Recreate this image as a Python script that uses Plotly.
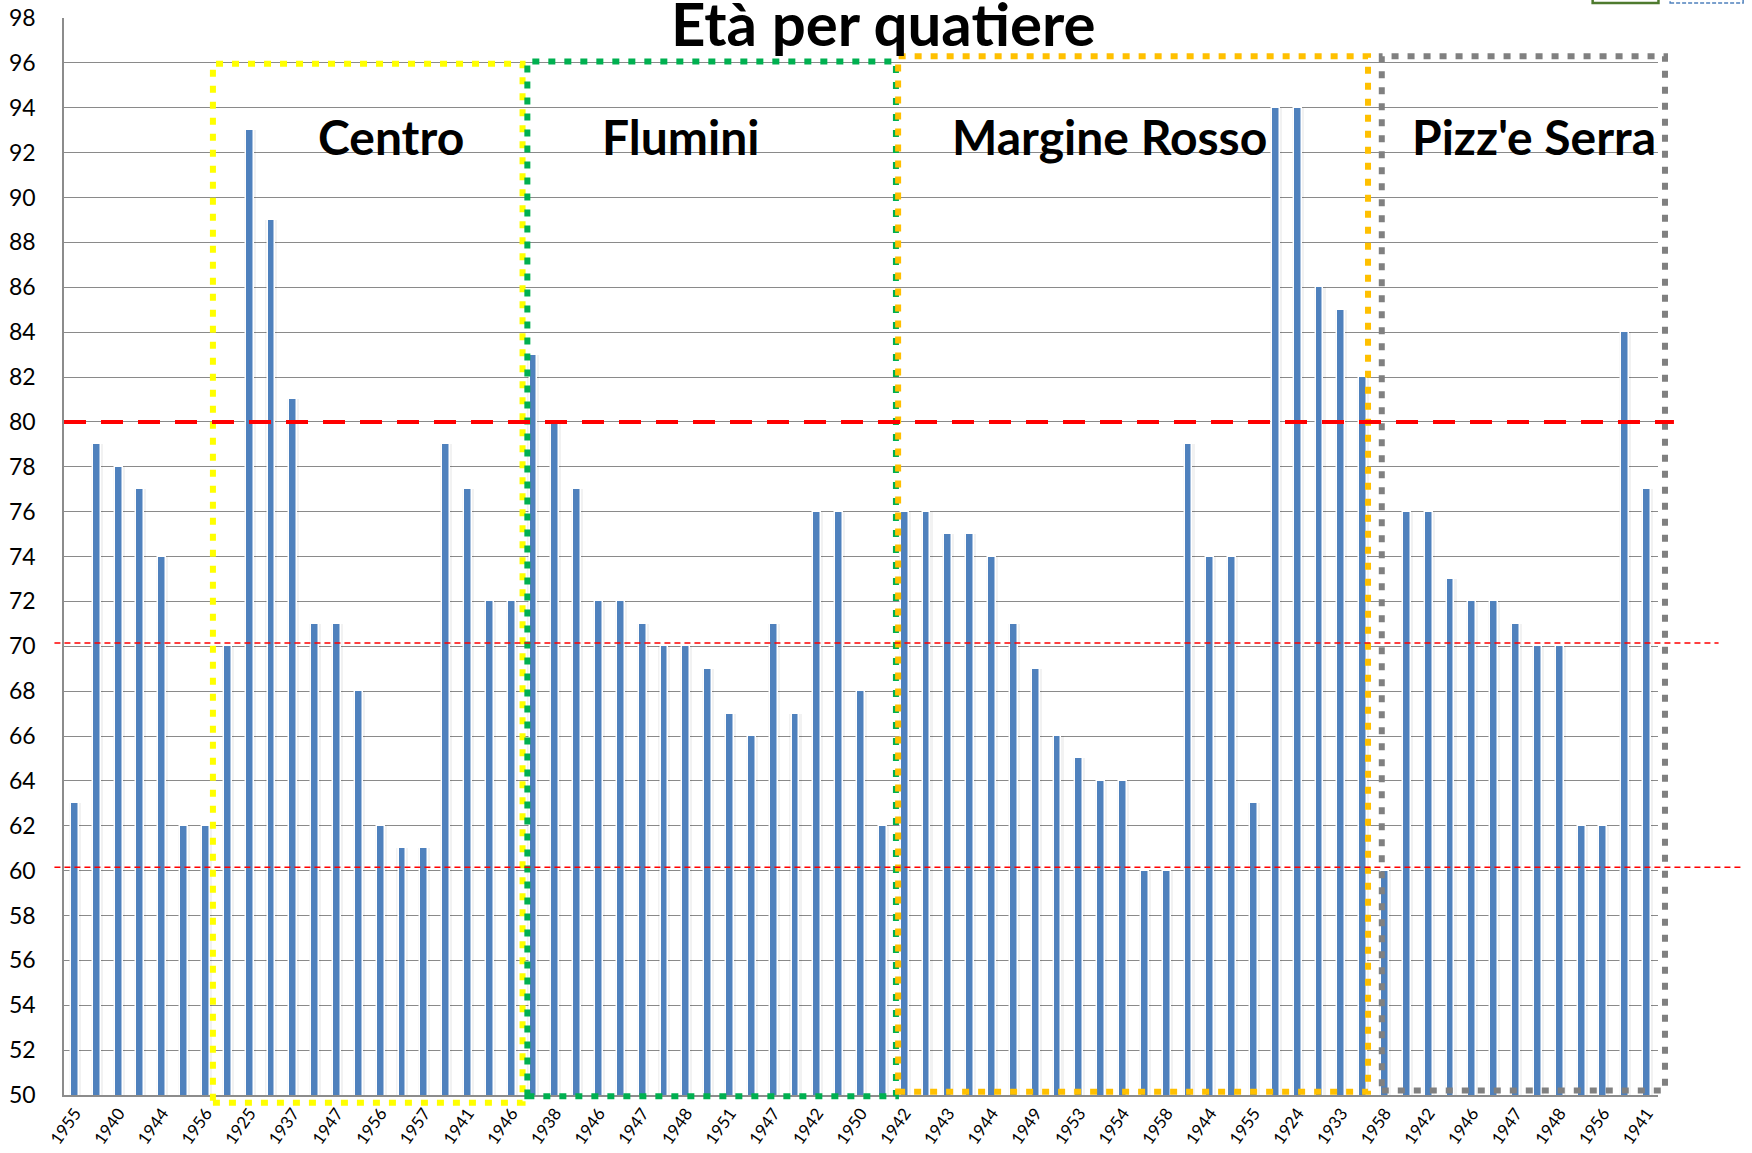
import plotly.graph_objects as go

# ---- data ----
ages = [63, 79, 78, 77, 74, 62, 62, 70, 93, 89,
        81, 71, 71, 68, 62, 61, 61, 79, 77, 72,
        72, 83, 80, 77, 72, 72, 71, 70, 70, 69,
        67, 66, 71, 67, 76, 76, 68, 62, 76, 76,
        75, 75, 74, 71, 69, 66, 65, 64, 64, 60,
        60, 79, 74, 74, 63, 94, 94, 86, 85, 82,
        60, 76, 76, 73, 72, 72, 71, 70, 70, 62,
        62, 84, 77]

# labels shown on every other bar
year_labels = ["1955", "1940", "1944", "1956", "1925", "1937", "1947", "1956", "1957", "1941",
               "1946", "1938", "1946", "1947", "1948", "1951", "1947", "1942", "1950", "1942",
               "1943", "1944", "1949", "1953", "1954", "1958", "1944", "1955", "1924", "1933",
               "1958", "1942", "1946", "1947", "1948", "1956", "1941"]

regions = ["Centro", "Flumini", "Margine Rosso", "Pizz'e Serra"]
region_colors = ["#FFFF00", "#00B050", "#FFC000", "#808080"]
region_x0 = [6.32, 20.72, 37.7, 59.85]
region_x1 = [20.5, 37.6, 59.22, 72.82]
region_y0 = [49.66, 49.94, 50.14, 50.2]
region_y1 = [95.96, 96.06, 96.3, 96.3]
region_label_x = [14.46, 27.73, 47.37, 66.83]
region_label_y = 92.7

thresholds = [80, 70.15, 60.15]

Y_MIN, Y_MAX = 50, 98
n = len(ages)
idx = list(range(n))
tick_idx = idx[::2]


def xp(i):
    return (i + 0.5) / n


def yp(v):
    return (v - Y_MIN) / (Y_MAX - Y_MIN)


fig = go.Figure()
# soft shadow behind the bars
fig.add_trace(go.Bar(x=idx, y=ages, width=0.55, marker=dict(color="rgba(0,0,0,0.05)", line=dict(width=0)),
                     hoverinfo="skip", showlegend=False))
fig.add_trace(go.Bar(x=idx, y=ages, width=0.36,
                     marker=dict(color="#4F81BD", line=dict(color="#FFFFFF", width=1.5)),
                     showlegend=False, name="Età"))

shapes = []
for x0, x1, y0, y1, c in zip(region_x0, region_x1, region_y0, region_y1, region_colors):
    shapes.append(dict(type="rect", xref="paper", yref="paper",
                       x0=xp(x0), x1=xp(x1), y0=yp(y0), y1=yp(y1),
                       line=dict(color=c, width=6, dash="7px,9px"), layer="above"))

# red reference lines
shapes.append(dict(type="line", xref="paper", yref="paper", x0=0, x1=1.01,
                   y0=yp(thresholds[0]), y1=yp(thresholds[0]),
                   line=dict(color="#FF0000", width=4, dash="22px,15px"), layer="above"))
shapes.append(dict(type="line", xref="paper", yref="paper", x0=-0.006, x1=1.038,
                   y0=yp(thresholds[1]), y1=yp(thresholds[1]),
                   line=dict(color="#FF0000", width=1.5, dash="6px,4px"), layer="above"))
shapes.append(dict(type="line", xref="paper", yref="paper", x0=-0.006, x1=1.054,
                   y0=yp(thresholds[2]), y1=yp(thresholds[2]),
                   line=dict(color="#FF0000", width=1.5, dash="6px,4px"), layer="above"))

# cut-off legend boxes at top right
shapes.append(dict(type="rect", xref="paper", yref="paper", x0=0.959, x1=1.0003, y0=1.0139, y1=1.05,
                   line=dict(color="#4E7A2E", width=2.5), fillcolor="rgba(0,0,0,0)", layer="above"))
shapes.append(dict(type="rect", xref="paper", yref="paper", x0=1.0076, x1=1.0534, y0=1.0139, y1=1.05,
                   line=dict(color="#4F81BD", width=1.5, dash="4px,2px"), fillcolor="rgba(0,0,0,0)", layer="above"))

annotations = []
for name, lx in zip(regions, region_label_x):
    annotations.append(dict(text=name, xref="paper", yref="paper", x=xp(lx), y=yp(region_label_y),
                            showarrow=False, xanchor="center", yanchor="middle",
                            font=dict(family="Lato", size=48, color="#000000", weight="bold")))
annotations.append(dict(text="Età per quatiere", xref="paper", yref="paper", x=0.514, y=0.995,
                        showarrow=False, xanchor="center", yanchor="middle",
                        font=dict(family="Lato", size=60, color="#000000", weight="bold")))

fig.update_layout(
    width=1752, height=1153, autosize=False,
    margin=dict(l=64, r=94, t=18, b=58, autoexpand=False),
    paper_bgcolor="#FFFFFF", plot_bgcolor="#FFFFFF",
    barmode="overlay", bargap=0,
    shapes=shapes, annotations=annotations,
    font=dict(family="Lato", color="#000000"),
    xaxis=dict(range=[-0.5, n - 0.5], tickmode="array", tickvals=tick_idx, ticktext=year_labels,
               tickangle=-55, tickfont=dict(size=17), showgrid=False, zeroline=False, automargin=False,
               showline=True, linecolor="#8C8C8C", linewidth=1.5, ticks="", ticklabeloverflow="allow"),
    yaxis=dict(range=[Y_MIN, Y_MAX], dtick=2, tick0=50, tickfont=dict(size=23), automargin=False,
               showgrid=True, gridcolor="#8A8A8A", gridwidth=1.3, zeroline=False,
               showline=True, linecolor="#8C8C8C", linewidth=1.5, ticks="", ticklabelstandoff=22,
               ticklabeloverflow="allow"),
)

fig.write_html("out.html", config={"displayModeBar": False},
               post_script="document.body.style.margin='0';document.body.style.overflow='hidden';")
